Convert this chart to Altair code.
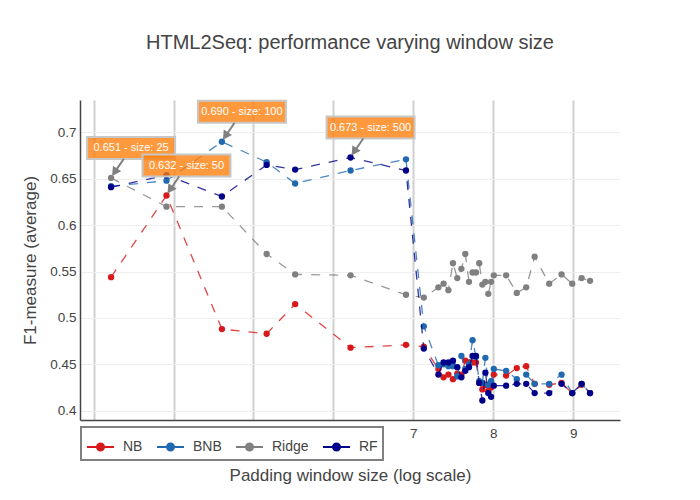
import numpy as np
import pandas as pd
import altair as alt

FONT = "Liberation Sans"

sizes = [25, 50, 100, 175, 250, 500, 1000, 1250, 1500, 1600, 1700, 1800, 1900,
         2000, 2100, 2200, 2300, 2400, 2500, 2600, 2700, 2800, 2900, 3000,
         3500, 4000, 4500, 5000, 6000, 7000, 8000, 9000, 10000]

nb = [0.544, 0.632, 0.488, 0.483, 0.515, 0.468, 0.471, 0.469, 0.445, 0.436, 0.439,
      0.434, 0.440, 0.439, 0.454, 0.452, 0.452, 0.452, 0.430, 0.423, 0.428, 0.421,
      0.425, 0.439, 0.438, 0.446, 0.448, 0.429, 0.428, 0.430, 0.419, 0.428, 0.419]
bnb = [0.642, 0.648, 0.690, 0.668, 0.645, 0.659, 0.671, 0.491, 0.449, 0.450, 0.448,
       0.448, 0.437, 0.459, 0.445, 0.450, 0.476, 0.458, 0.432, 0.430, 0.457, 0.428,
       0.432, 0.445, 0.443, 0.434, 0.439, 0.429, 0.429, 0.439, 0.419, 0.429, 0.419]
ridge = [0.651, 0.620, 0.620, 0.569, 0.547, 0.546, 0.525, 0.522, 0.533, 0.537, 0.530,
         0.559, 0.543, 0.553, 0.569, 0.539, 0.549, 0.549, 0.559, 0.536, 0.539, 0.526,
         0.539, 0.546, 0.546, 0.527, 0.533, 0.566, 0.537, 0.547, 0.537, 0.543, 0.540]
rf = [0.641, 0.654, 0.631, 0.665, 0.660, 0.673, 0.659, 0.467, 0.439, 0.452, 0.452,
      0.454, 0.447, 0.436, 0.443, 0.447, 0.459, 0.459, 0.430, 0.411, 0.441, 0.419,
      0.415, 0.427, 0.427, 0.429, 0.429, 0.419, 0.419, 0.429, 0.419, 0.429, 0.419]

series_names = ["NB", "BNB", "Ridge", "RF"]
series_colors = ["#d7191c", "#2068b0", "#808080", "#00008b"]

annot_series = ["Ridge", "NB", "BNB", "RF"]
annot_sizes = [25, 50, 100, 500]

x_ticks = [3, 4, 5, 6, 7, 8, 9]
y_ticks = [0.4, 0.45, 0.5, 0.55, 0.6, 0.65, 0.7]

values = {"NB": nb, "BNB": bnb, "Ridge": ridge, "RF": rf}
rows = []
for name in series_names:
    for s, v in zip(sizes, values[name]):
        rows.append({"series": name, "size": s, "logsize": float(np.log(s)), "f1": v})
df = pd.DataFrame(rows)

ann_rows = []
for name, s in zip(annot_series, annot_sizes):
    v = values[name][sizes.index(s)]
    ann_rows.append({"logsize": float(np.log(s)), "f1": v, "label": f"{v:.3f} - size: {s}"})
ann = pd.DataFrame(ann_rows)

xscale = alt.Scale(domain=[2.83, 9.585], nice=False, zero=False)
yscale = alt.Scale(domain=[0.39, 0.735], nice=False, zero=False)

xaxis = alt.Axis(values=x_ticks, format="~g", title="Padding window size (log scale)",
                 grid=True, gridColor="#d0d0d0", gridWidth=2, ticks=False, labelPadding=6,
                 titlePadding=28, domainColor="#444", domainWidth=1.5)
yaxis = alt.Axis(values=y_ticks, title="F1-measure (average)", format="~g", grid=True,
                 gridColor="#eeeeee", gridWidth=1, ticks=False, labelPadding=4,
                 titlePadding=10, domainColor="#444", domainWidth=1.5)

legend = alt.Legend(
    title=None, orient="none", legendX=1, legendY=327, direction="horizontal",
    symbolType="M-1,0H1M0.26,0A0.26,0.26,0,1,1,-0.26,0A0.26,0.26,0,1,1,0.26,0",
    symbolSize=729, symbolStrokeWidth=2, labelFont=FONT, labelFontSize=14,
    labelColor="#444", labelOffset=8, columnPadding=10, padding=5,
    fillColor="white", strokeColor="#808080",
)
color = alt.Color("series:N", scale=alt.Scale(domain=series_names, range=series_colors),
                  legend=legend)

base = alt.Chart(df).encode(
    x=alt.X("logsize:Q", scale=xscale, axis=xaxis),
    y=alt.Y("f1:Q", scale=yscale, axis=yaxis),
    color=color,
    order=alt.Order("size:Q"),
)

layers = []
for name in series_names:
    sub = base.transform_filter(alt.datum.series == name)
    layers.append(sub.mark_line(strokeWidth=1.3, strokeDash=[9, 9], strokeOpacity=0.8))
    layers.append(sub.mark_circle(size=40, opacity=1))

abase = alt.Chart(ann).encode(
    x=alt.X("logsize:Q", scale=xscale),
    y=alt.Y("f1:Q", scale=yscale),
)
boxes = abase.mark_rect(fill="#ff7f0e", fillOpacity=0.8, stroke="#c7c7c7", strokeWidth=2,
                        xOffset=-24, x2Offset=64, yOffset=-41, y2Offset=-19).encode(
    x2=alt.X2("logsize"), y2=alt.Y2("f1"))
texts = abase.mark_text(color="white", font=FONT, fontSize=11, dx=20, dy=-30,
                        align="center", baseline="middle").encode(text="label:N")
shafts = abase.mark_rule(color="#808080", strokeWidth=2, xOffset=12.7, x2Offset=5.5,
                         yOffset=-19, y2Offset=-8.5).encode(
    x2=alt.X2("logsize"), y2=alt.Y2("f1"))
heads = abase.mark_point(shape="M0,0L-0.55,-1L0.55,-1Z", size=324, angle=33.7, filled=True,
                         color="#808080", opacity=1, xOffset=1, yOffset=-2)

chart = alt.layer(*layers, boxes, texts, shafts, heads).properties(
    width=540, height=320,
    autosize=alt.AutoSizeParams(type="none"),
    padding={"left": 72, "top": 92, "right": 72, "bottom": 72},
    title=alt.TitleParams("HTML2Seq: performance varying window size", font=FONT,
                          fontSize=20, fontWeight="normal", color="#444", anchor="middle",
                          frame="group", baseline="alphabetic", offset=31),
).configure_view(stroke=None).configure_axis(
    labelFont=FONT, labelFontSize=13.5, labelColor="#444",
    titleFont=FONT, titleFontSize=17, titleColor="#444", titleFontWeight="normal",
).configure_legend(strokeWidth=2)

chart.save("out.html", embed_options={"renderer": "svg", "actions": False})
